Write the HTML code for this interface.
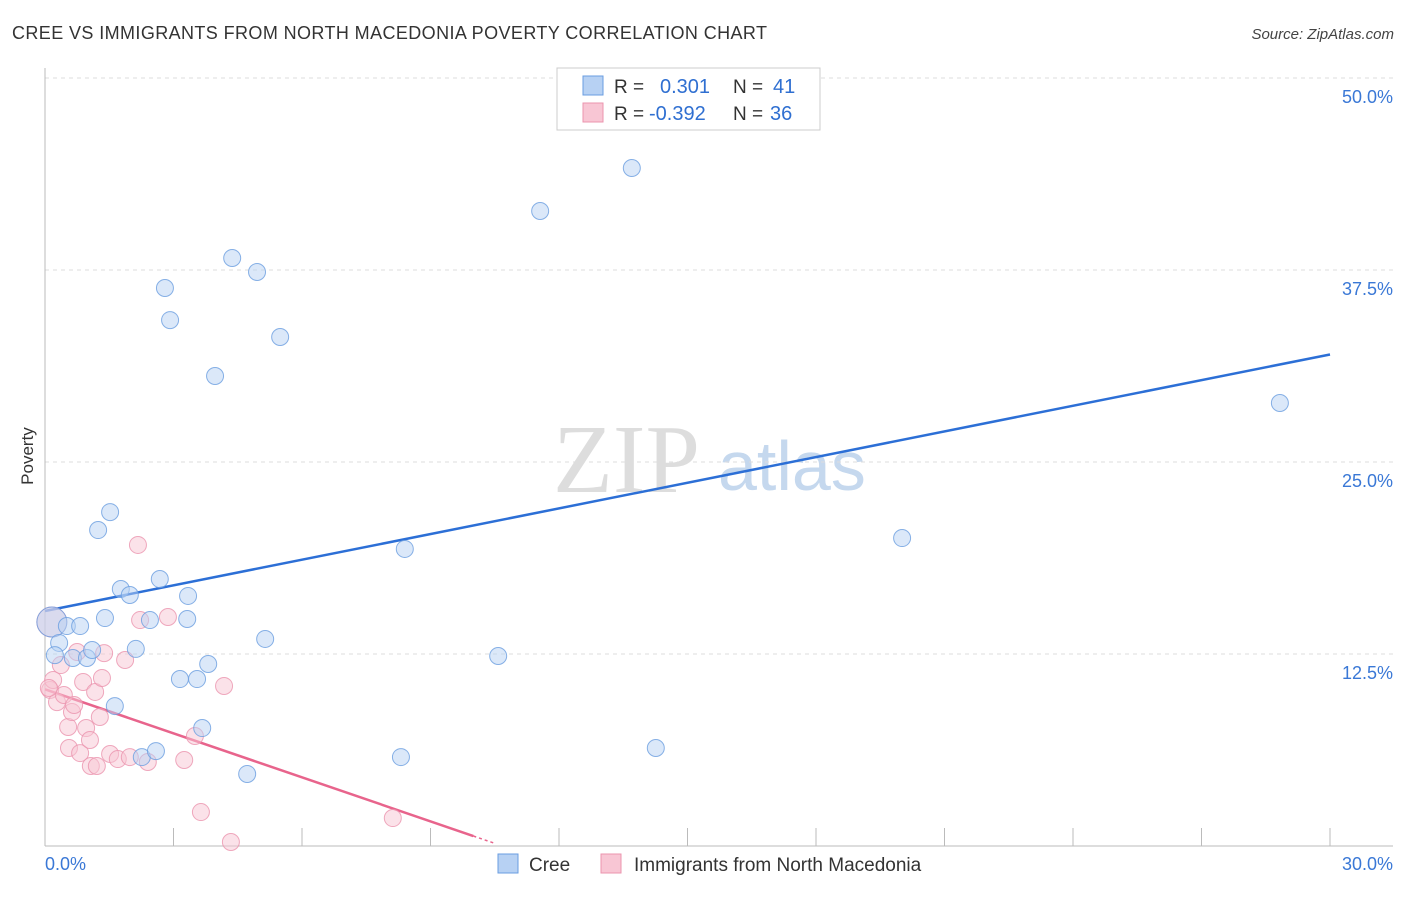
<!DOCTYPE html>
<html><head><meta charset="utf-8"><style>
body{margin:0;background:#fff;font-family:"Liberation Sans",sans-serif;}
svg text{font-family:"Liberation Sans",sans-serif;}
</style></head><body>
<svg id="chart" width="1406" height="892" xmlns="http://www.w3.org/2000/svg">
<text x="12" y="39" font-size="18" fill="#333" textLength="755">CREE VS IMMIGRANTS FROM NORTH MACEDONIA POVERTY CORRELATION CHART</text>
<text x="1394" y="39" font-size="15" fill="#444" text-anchor="end" font-style="italic">Source: ZipAtlas.com</text>
<text x="33" y="456" font-size="17" fill="#333" transform="rotate(-90 33 456)" text-anchor="middle">Poverty</text>
<g><text x="553" y="492" font-size="98" fill="#ddd" style="font-family:'Liberation Serif',serif">ZIP</text><text x="718" y="490" font-size="70" fill="#c5d8ee">atlas</text></g>
<g id="grid"></g><g id="axes"></g><g id="lines"></g><g id="pts"></g>
<g>
<rect x="557" y="68" width="263" height="62" fill="#fff" stroke="#ccc"/>
<rect x="583" y="76" width="20" height="19" fill="#b7d1f3" stroke="#6a9de0"/>
<rect x="583" y="103" width="20" height="19" fill="#f8c6d4" stroke="#eb94ae"/>
<text x="614" y="93" font-size="19" fill="#333">R =</text><text x="660" y="93" font-size="20" fill="#2f6fd1">0.301</text>
<text x="733" y="93" font-size="19" fill="#333">N =</text><text x="773" y="93" font-size="20" fill="#2f6fd1">41</text>
<text x="614" y="120" font-size="19" fill="#333">R =</text><text x="649" y="120" font-size="20" fill="#2f6fd1">-0.392</text>
<text x="733" y="120" font-size="19" fill="#333">N =</text><text x="770" y="120" font-size="20" fill="#2f6fd1">36</text>
</g>
<g>
<rect x="498" y="854" width="20" height="19" fill="#b7d1f3" stroke="#6a9de0"/>
<text x="529" y="871" font-size="19" fill="#333">Cree</text>
<rect x="601" y="854" width="20" height="19" fill="#f8c6d4" stroke="#eb94ae"/>
<text x="634" y="871" font-size="19" fill="#333">Immigrants from North Macedonia</text>
</g>
</svg>
<script>
const blueX=[0.16,0.33,0.23,0.51,0.82,0.65,0.98,1.10,1.40,1.24,1.52,1.77,1.98,2.12,2.45,2.68,3.34,3.32,3.15,3.55,3.81,3.67,1.63,2.26,2.59,2.80,2.92,4.37,4.95,3.97,5.49,5.14,4.72,8.40,8.31,10.58,11.56,13.70,14.26,20.01,28.83];
const blueY=[14.58,13.22,12.43,14.32,14.32,12.24,12.24,12.76,14.84,20.57,21.74,16.73,16.34,12.83,14.71,17.38,16.28,14.78,10.87,10.87,11.85,7.68,9.11,5.79,6.18,36.33,34.24,38.28,37.37,30.60,33.14,13.48,4.69,19.34,5.79,12.37,41.34,44.14,6.38,20.05,28.84];
const pinkX=[0.16,0.12,0.19,0.28,0.37,0.44,0.54,0.56,0.63,0.68,0.75,0.82,0.89,0.96,1.05,1.07,1.17,1.21,1.28,1.33,1.38,1.52,1.70,1.87,1.98,2.17,2.22,2.40,2.87,3.25,3.50,3.64,4.18,4.34,8.12,0.09];
const pinkY=[14.58,10.16,10.81,9.37,11.78,9.83,7.75,6.38,8.72,9.18,12.63,6.05,10.68,7.68,6.90,5.21,10.03,5.21,8.40,10.94,12.56,5.99,5.66,12.11,5.79,19.60,14.71,5.47,14.91,5.60,7.16,2.21,10.42,0.26,1.82,10.29];
const yTicks=[12.5,25,37.5,50];
const yTickLabels=["12.5%","25.0%","37.5%","50.0%"];
const xTickLabels=["0.0%","30.0%"];
const blueLine=[15.3,32.0];
const pinkLine=[10.2,0.65,10.0];
const NS="http://www.w3.org/2000/svg";
const sx=v=>45+v/30*1285, sy=v=>846-v/50*768;
function mk(tag,attrs,parent){const e=document.createElementNS(NS,tag);for(const k in attrs)e.setAttribute(k,attrs[k]);document.getElementById(parent).appendChild(e);return e;}
yTicks.forEach((t,i)=>{
 const g=mk('line',{x1:45,x2:1393,y1:sy(t),y2:sy(t),stroke:'#ddd','stroke-dasharray':'4 4'},'grid');
 
 
 const l=mk('text',{x:1393,y:sy(t)+25,'font-size':18,fill:'#3a78d6','text-anchor':'end'},'axes');l.textContent=yTickLabels[i];
 
 
});
mk('line',{x1:45,x2:45,y1:68,y2:846,stroke:'#bbb'},'axes');
mk('line',{x1:45,x2:1393,y1:846,y2:846,stroke:'#bbb'},'axes');
for(let i=1;i<=10;i++){const x=sx(i*3);const t=mk('line',{x1:x,x2:x,y1:828,y2:846,stroke:'#bbb'},'axes');
 
 }
[[0,'start',45],[1,'end',1393]].forEach(([i,a,x])=>{const l=mk('text',{x:x,y:870,'font-size':18,fill:'#3a78d6','text-anchor':a},'axes');l.textContent=xTickLabels[i];
 
 });
function pts(X,Y,fill,stroke,name){X.forEach((x,i)=>{const c=mk('circle',{cx:sx(x),cy:sy(Y[i]),r:i==0?15:8.5,fill:fill,'fill-opacity':0.5,stroke:stroke,'stroke-opacity':0.8,'stroke-width':1},'pts');
 
 });}
pts(pinkX,pinkY,'#f8c6d4','#eb94ae','macedonia-point');
pts(blueX,blueY,'#b7d1f3','#6a9de0','cree-point');
const bl=mk('line',{x1:sx(0),y1:sy(blueLine[0]),x2:sx(30),y2:sy(blueLine[1]),stroke:'#2c6fd6','stroke-width':2.5},'lines');


const pl=mk('line',{x1:sx(0),y1:sy(pinkLine[0]),x2:sx(pinkLine[2]),y2:sy(pinkLine[1]),stroke:'#e8648c','stroke-width':2.5},'lines');


const pd=mk('line',{x1:sx(pinkLine[2]),y1:sy(pinkLine[1]),x2:sx(10.5),y2:sy(pinkLine[0]+(pinkLine[1]-pinkLine[0])*10.5/pinkLine[2]),stroke:'#e8648c','stroke-width':1.5,'stroke-dasharray':'3 3'},'lines');


</script>
</body></html>
